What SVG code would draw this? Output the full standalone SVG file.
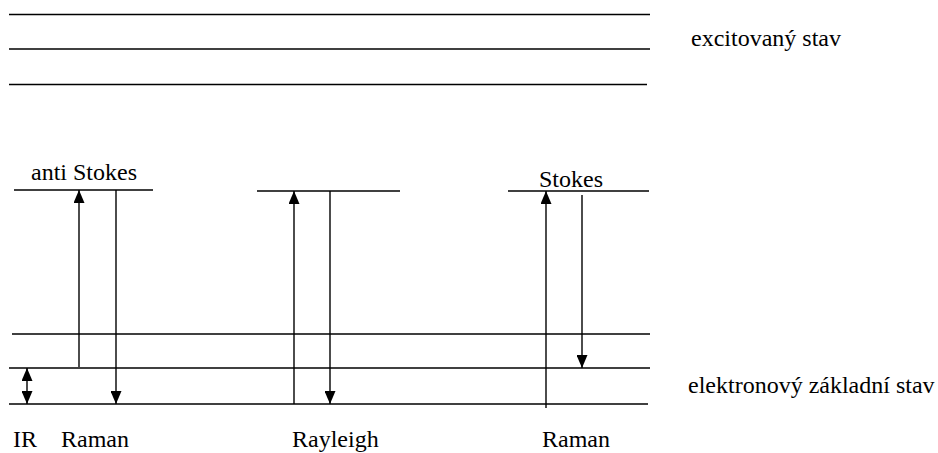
<svg xmlns="http://www.w3.org/2000/svg" width="938" height="453" viewBox="0 0 938 453">
<style>
.lv{stroke:#000;stroke-width:1.4;fill:none}
.ar{stroke:#000;stroke-width:1.4;fill:none}
.t{font-family:'Liberation Serif','Times New Roman','DejaVu Serif',serif;font-size:24px;fill:#000}
</style>
<defs>
<marker id="ah" viewBox="0 0 13 11" refX="13" refY="5.5" markerWidth="13" markerHeight="11" markerUnits="userSpaceOnUse" orient="auto">
<path d="M0,0 L13,5.5 L0,11 Z" fill="#000"/>
</marker>
<marker id="ahs" viewBox="0 0 13 11" refX="0" refY="5.5" markerWidth="13" markerHeight="11" markerUnits="userSpaceOnUse" orient="auto">
<path d="M13,0 L0,5.5 L13,11 Z" fill="#000"/>
</marker>
</defs>
<rect width="938" height="453" fill="#fff"/>
<g id="excited">
<line class="lv" x1="9" y1="14.5" x2="650" y2="14.5"/>
<line class="lv" x1="9" y1="49" x2="650" y2="49"/>
<line class="lv" x1="9" y1="84.5" x2="647" y2="84.5"/>
<text class="t" x="691" y="46">excitovaný stav</text>
</g>
<g id="ground">
<line class="lv" x1="12" y1="334" x2="650" y2="334"/>
<line class="lv" x1="9" y1="368" x2="650" y2="368"/>
<line class="lv" x1="9" y1="404" x2="648" y2="404"/>
<text class="t" x="688" y="393">elektronový základní stav</text>
</g>
<g id="antistokes">
<line class="lv" x1="14" y1="190" x2="153" y2="190"/>
<text class="t" x="31" y="180">anti Stokes</text>
</g>
<g id="rayleigh">
<line class="lv" x1="257" y1="191" x2="400" y2="191"/>
</g>
<g id="stokes">
<line class="lv" x1="508" y1="191" x2="649" y2="191"/>
<text class="t" x="539" y="187">Stokes</text>
</g>
<g id="connectors">
<line class="ar" x1="79" y1="367" x2="79" y2="190" marker-end="url(#ah)"/>
<line class="ar" x1="116" y1="190" x2="116" y2="404" marker-end="url(#ah)"/>
<line class="ar" x1="27" y1="368" x2="27" y2="404" marker-start="url(#ahs)" marker-end="url(#ah)"/>
<line class="ar" x1="294" y1="404" x2="294" y2="191" marker-end="url(#ah)"/>
<line class="ar" x1="330" y1="191" x2="330" y2="404" marker-end="url(#ah)"/>
<line class="ar" x1="546" y1="408" x2="546" y2="191" marker-end="url(#ah)"/>
<line class="ar" x1="582" y1="195" x2="582" y2="368" marker-end="url(#ah)"/>
</g>
<g id="labels">
<text class="t" x="13" y="447">IR</text>
<text class="t" x="61" y="447">Raman</text>
<text class="t" x="292" y="447">Rayleigh</text>
<text class="t" x="542" y="447">Raman</text>
</g>
</svg>
